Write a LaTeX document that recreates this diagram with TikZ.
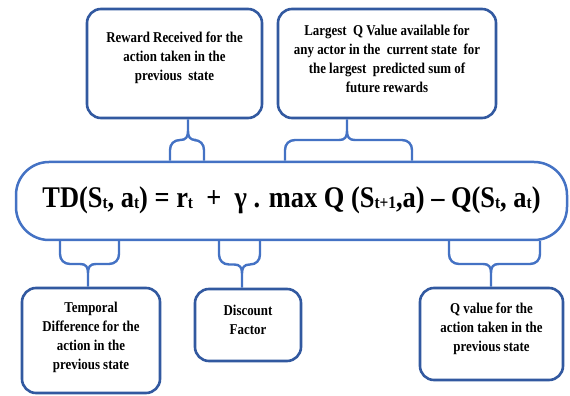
\documentclass[tikz,border=0pt]{standalone}
\usepackage{fontspec}
\setmainfont{Liberation Serif}
\newfontfamily\boxfont[FakeStretch=0.86]{Liberation Serif}
\newfontfamily\mainfont[FakeStretch=0.88]{Liberation Serif}
\usetikzlibrary{calc}
\definecolor{lineblue}{HTML}{4472C4}
\definecolor{boxblue}{HTML}{3259A0}
\newcommand\sbt[1]{\raisebox{-1.5pt}{\fontsize{17.5}{17.5}\selectfont #1}}
\newcommand\topbrace[5]{%
  \draw[bracestyle] let \p1=(#1.south), \p2=(#2.north), \n1={(\y1+\y2)/2} in
   (#3,\y1) -- (#3,\n1+9) .. controls (#3,\n1+3) and (#3-2,\n1) .. (#3-8,\n1) -- (#4+10,\n1)
     .. controls (#4+4,\n1) and (#4,\n1-4) .. (#4,\n1-10) -- (#4,\y2)
   (#3,\n1+9) .. controls (#3,\n1+3) and (#3+2,\n1) .. (#3+8,\n1) -- (#5-10,\n1)
     .. controls (#5-4,\n1) and (#5,\n1-4) .. (#5,\n1-10) -- (#5,\y2);}
\newcommand\botbrace[5]{%
  \draw[bracestyle] let \p1=(#1.south), \p2=(#2.north), \n1={(\y1+\y2)/2} in
   (#4,\y1) -- (#4,\n1+10) .. controls (#4,\n1+4) and (#4+4,\n1) .. (#4+10,\n1) -- (#3-8,\n1)
     .. controls (#3-2,\n1) and (#3,\n1-3) .. (#3,\n1-9) -- (#3,\y2)
   (#5,\y1) -- (#5,\n1+10) .. controls (#5,\n1+4) and (#5-4,\n1) .. (#5-10,\n1) -- (#3+8,\n1)
     .. controls (#3+2,\n1) and (#3,\n1-3) .. (#3,\n1-9);}
\tikzset{
  smallbox/.style={draw=boxblue, line width=2.6pt, rounded corners=14pt, inner sep=0pt},
  mainbox/.style={draw=lineblue, line width=2.5pt, rounded corners=33pt, inner sep=0pt},
  boxtext/.style={font=\boxfont\bfseries\fontsize{15}{19}\selectfont, align=center, inner sep=0pt},
  maintext/.style={font=\mainfont\bfseries\fontsize{30}{34}\selectfont, inner sep=0pt},
  bracestyle/.style={draw=lineblue, line width=2.4pt}
}
\begin{document}
\begin{tikzpicture}[x=1pt,y=1pt]
\useasboundingbox[fill=white] (0,0) rectangle (570,396);
% main formula box
\node[mainbox, minimum width=551pt, minimum height=78pt] (main) at (291.5,195) {};
\node[maintext] (formula) at (291.5,196) {TD(S\sbt{t}, a\sbt{t}) = r\sbt{t} \ + \ γ . max Q (S\sbt{t+1},a) – Q(S\sbt{t}, a\sbt{t})};
% top boxes
\node[smallbox, minimum width=175pt, minimum height=109pt] (reward) at (174.5,332.5) {};
\node[boxtext] (rewardt) at (174.5,338.5) {Reward Received for the\\action taken in the\\previous\ \ state};
\node[smallbox, minimum width=218pt, minimum height=109pt] (largest) at (387,332.5) {};
\node[boxtext] (largestt) at (387,337) {Largest\ \ Q Value available for\\any actor in the\ \ current state\ \ for\\the largest\ \ predicted sum of\\future rewards};
% bottom boxes
\node[smallbox, minimum width=138pt, minimum height=105pt] (temporal) at (91,55.5) {};
\node[boxtext] (temporalt) at (91,58.5) {Temporal\\Difference for the\\action in the\\previous state};
\node[smallbox, minimum width=106pt, minimum height=72pt] (discount) at (248,71) {};
\node[boxtext] (discountt) at (248,76) {Discount\\Factor};
\node[smallbox, minimum width=143pt, minimum height=92pt] (qvalue) at (491.5,62) {};
\node[boxtext] (qvaluet) at (491.5,67.5) {Q value for the\\action taken in the\\previous state};
% braces
\topbrace{reward}{main}{188}{170}{204}
\topbrace{largest}{main}{347}{285}{412}
\botbrace{main}{temporal}{88}{60}{119}
\botbrace{main}{discount}{242}{219}{260}
\botbrace{main}{qvalue}{491}{449}{540}
\end{tikzpicture}
\end{document}
